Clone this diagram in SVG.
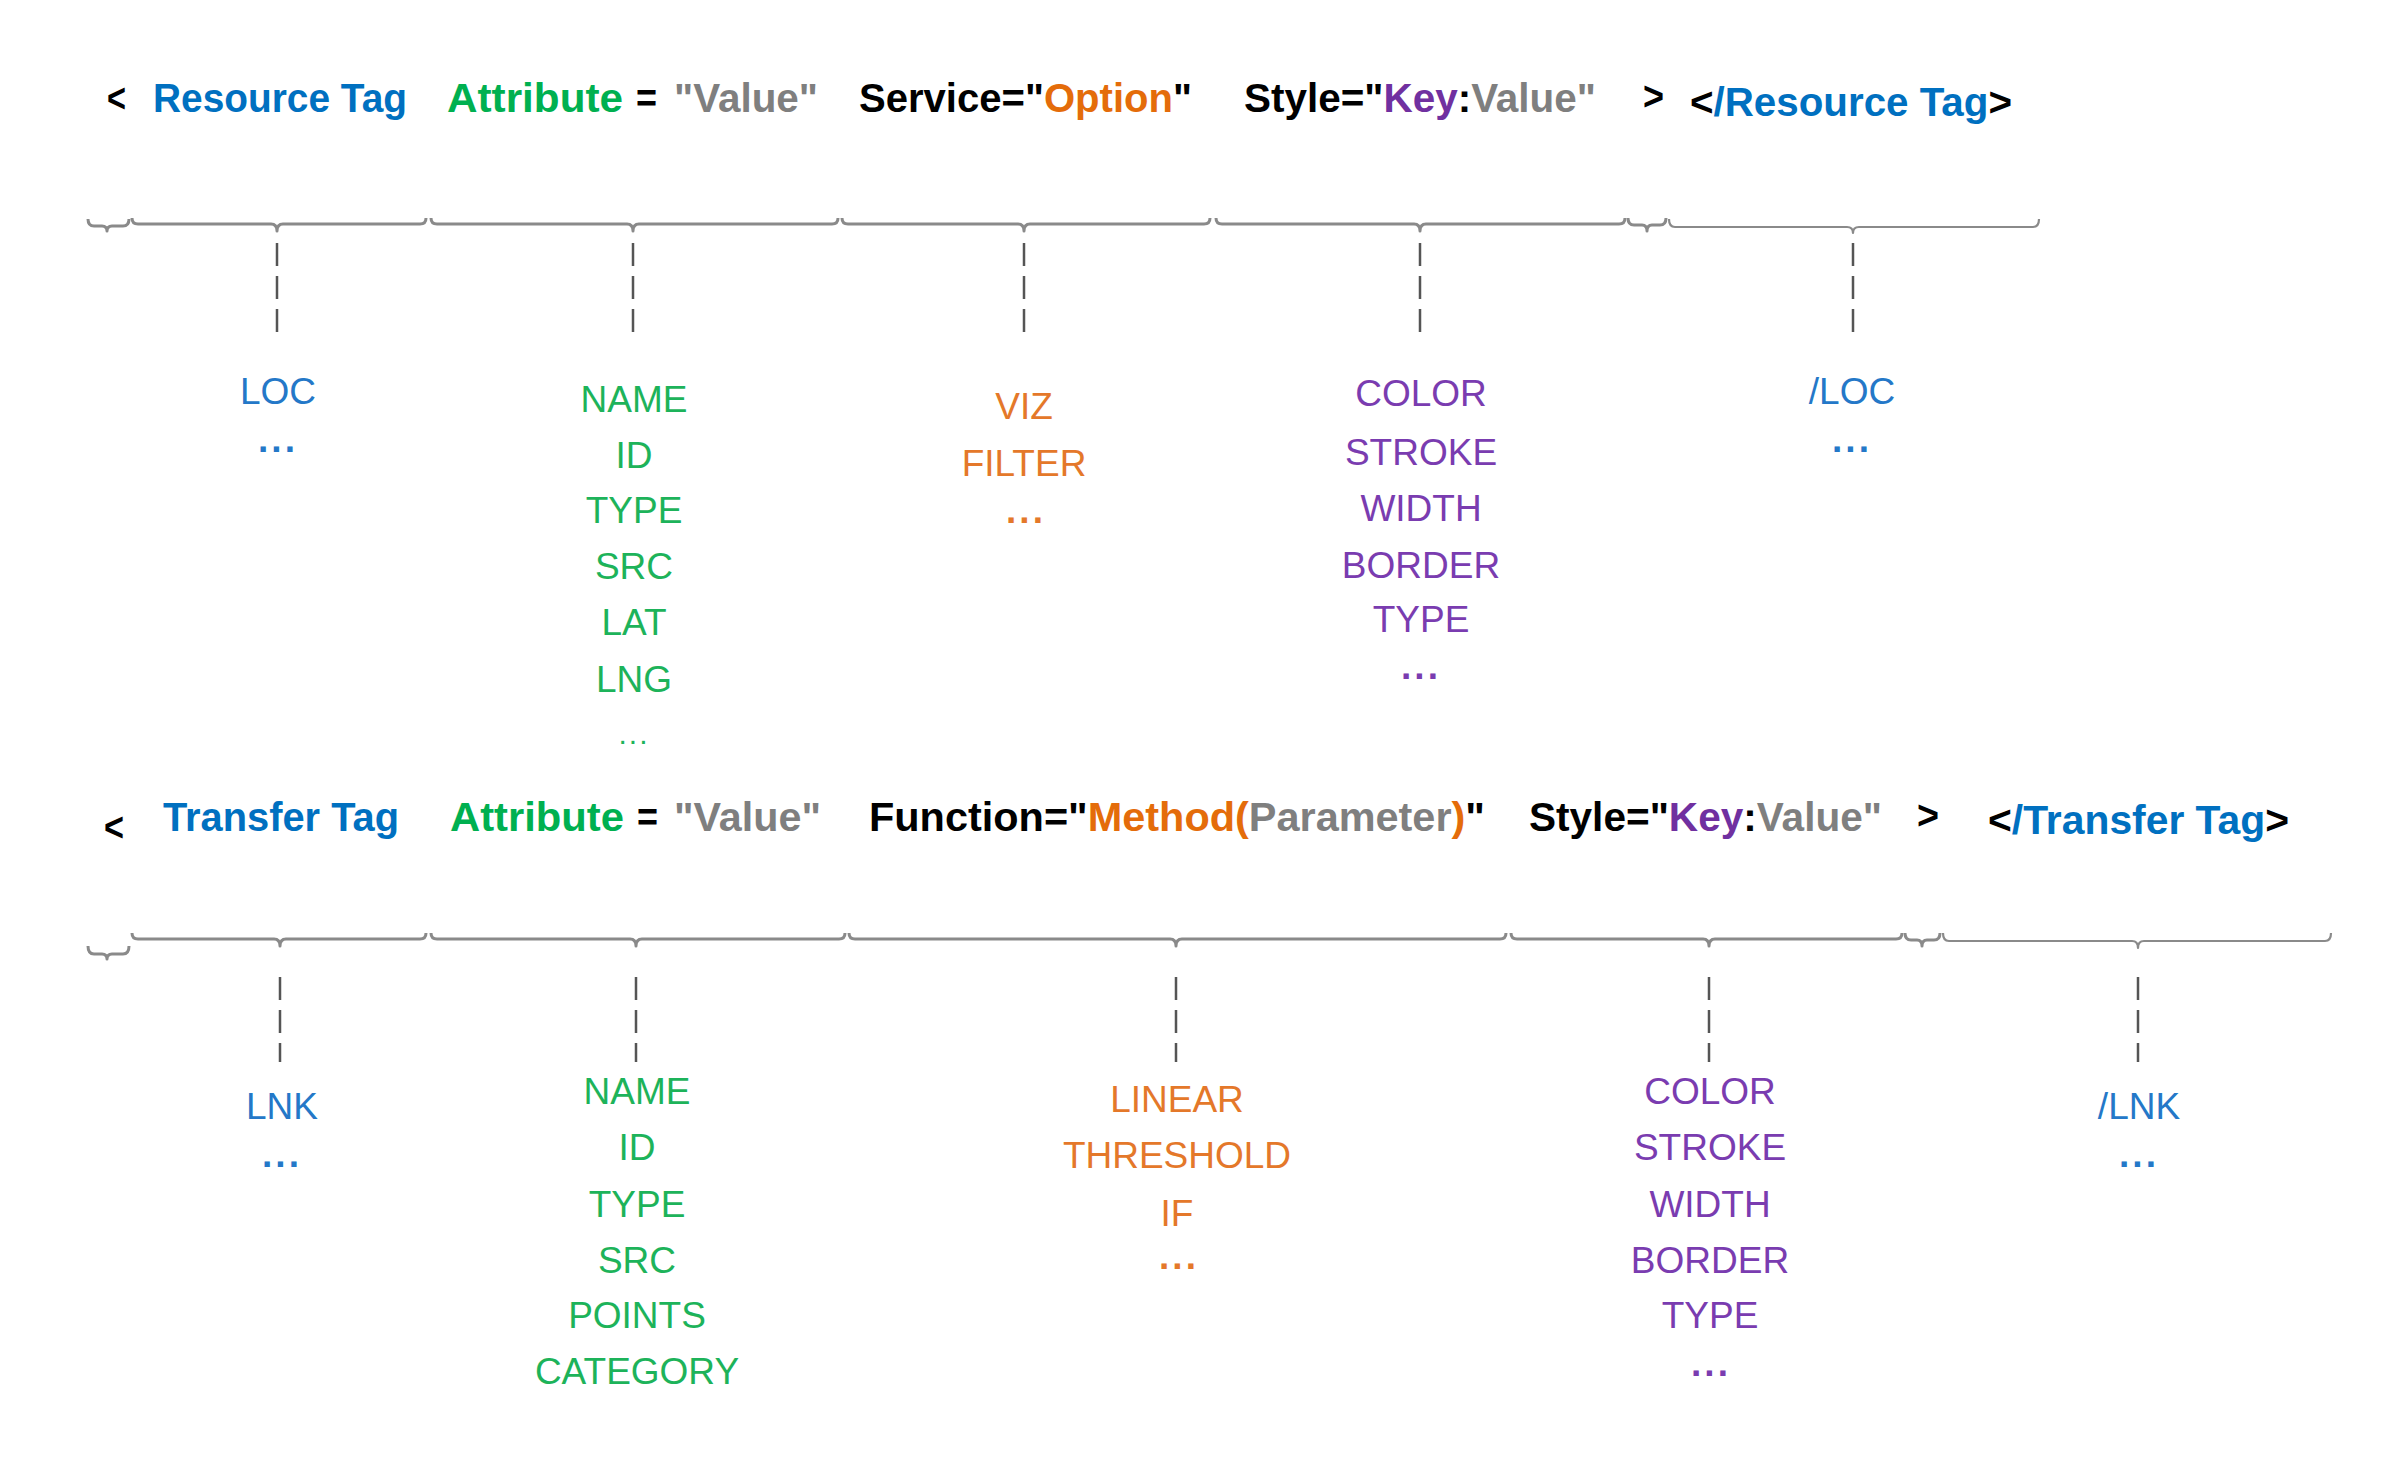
<svg xmlns="http://www.w3.org/2000/svg" width="2386" height="1482" viewBox="0 0 2386 1482">
<style>
.h{font-family:"Liberation Sans",Arial,sans-serif;font-weight:bold;font-size:41px}
.k{fill:#000}.b{fill:#0070C0}.g{fill:#00B050}.o{fill:#E46C0A}.p{fill:#7030A0}.y{fill:#7F7F7F}
.l{font-family:"Liberation Sans",Arial,sans-serif;font-size:37px;text-anchor:middle}
.lb{fill:#2478C8}.lg{fill:#1DB35A}.lo{fill:#E4782A}.lp{fill:#7A3CB0}
.d{font-weight:bold;letter-spacing:3px}
.br{fill:none;stroke:#8A8A8A;stroke-width:3;stroke-linejoin:round}
.ds{stroke:#555;stroke-width:2.5;stroke-dasharray:23 10}
</style>
<rect width="2386" height="1482" fill="#fff"/>

<g id="header-resource" class="h">
<text x="107" y="112" class="k" textLength="19" lengthAdjust="spacingAndGlyphs">&lt;</text>
<text x="153" y="112" class="b" textLength="254" lengthAdjust="spacingAndGlyphs">Resource Tag</text>
<text x="447" y="112" class="g" textLength="176" lengthAdjust="spacingAndGlyphs">Attribute</text>
<text x="636" y="112" class="k" textLength="21" lengthAdjust="spacingAndGlyphs">=</text>
<text x="674" y="112" class="y" textLength="144" lengthAdjust="spacingAndGlyphs">"Value"</text>
<text x="859" y="112" textLength="333" lengthAdjust="spacingAndGlyphs"><tspan class="k">Service="</tspan><tspan class="o">Option</tspan><tspan class="k">"</tspan></text>
<text x="1244" y="112" textLength="352" lengthAdjust="spacingAndGlyphs"><tspan class="k">Style="</tspan><tspan class="p">Key</tspan><tspan class="k">:</tspan><tspan class="y">Value"</tspan></text>
<text x="1643" y="110" class="k" textLength="21" lengthAdjust="spacingAndGlyphs">&gt;</text>
<text x="1690" y="116" textLength="322" lengthAdjust="spacingAndGlyphs"><tspan class="k">&lt;</tspan><tspan class="b">/Resource Tag</tspan><tspan class="k">&gt;</tspan></text>
</g>

<g id="header-transfer" class="h">
<text x="104" y="841" class="k" textLength="20" lengthAdjust="spacingAndGlyphs">&lt;</text>
<text x="163" y="831" class="b" textLength="236" lengthAdjust="spacingAndGlyphs">Transfer Tag</text>
<text x="450" y="831" class="g" textLength="174" lengthAdjust="spacingAndGlyphs">Attribute</text>
<text x="637" y="831" class="k" textLength="21" lengthAdjust="spacingAndGlyphs">=</text>
<text x="674" y="831" class="y" textLength="147" lengthAdjust="spacingAndGlyphs">"Value"</text>
<text x="869" y="831" textLength="616" lengthAdjust="spacingAndGlyphs"><tspan class="k">Function="</tspan><tspan class="o">Method(</tspan><tspan class="y">Parameter</tspan><tspan class="o">)</tspan><tspan class="k">"</tspan></text>
<text x="1529" y="831" textLength="353" lengthAdjust="spacingAndGlyphs"><tspan class="k">Style="</tspan><tspan class="p">Key</tspan><tspan class="k">:</tspan><tspan class="y">Value"</tspan></text>
<text x="1917" y="829" class="k" textLength="22" lengthAdjust="spacingAndGlyphs">&gt;</text>
<text x="1988" y="834" textLength="301" lengthAdjust="spacingAndGlyphs"><tspan class="k">&lt;</tspan><tspan class="b">/Transfer Tag</tspan><tspan class="k">&gt;</tspan></text>
</g>

<g id="connectors">
<g id="braces-resource">
<path class="br" d="M88,219 Q88,226 94,226 L102,226 Q107,226 107,231 Q107,226 112,226 L123,226 Q129,226 129,219"/>
<path class="br" d="M132,218 Q132,224 138,224 L271,224 Q277,224 277,231 Q277,224 283,224 L420,224 Q426,224 426,218"/>
<path class="br" d="M431,218 Q431,224 437,224 L627,224 Q633,224 633,231 Q633,224 639,224 L832,224 Q838,224 838,218"/>
<path class="br" d="M842,218 Q842,224 848,224 L1018,224 Q1024,224 1024,231 Q1024,224 1030,224 L1204,224 Q1210,224 1210,218"/>
<path class="br" d="M1216,218 Q1216,224 1222,224 L1414,224 Q1420,224 1420,231 Q1420,224 1426,224 L1619,224 Q1625,224 1625,218"/>
<path class="br" d="M1628,218 Q1628,225 1634,225 L1642,225 Q1647,225 1647,231 Q1647,225 1652,225 L1660,225 Q1666,225 1666,218"/>
<path class="br" d="M1669,219 Q1669,227 1675,227 L1847,227 Q1853,227 1853,233 Q1853,227 1859,227 L2033,227 Q2039,227 2039,219" style="stroke-width:2.2"/>
</g>
<g id="braces-transfer">
<path class="br" d="M88,946 Q88,954 94,954 L102,954 Q107,954 107,959 Q107,954 112,954 L123,954 Q129,954 129,946"/>
<path class="br" d="M132,933 Q132,939 138,939 L274,939 Q280,939 280,946 Q280,939 286,939 L420,939 Q426,939 426,933"/>
<path class="br" d="M431,933 Q431,939 437,939 L630,939 Q636,939 636,946 Q636,939 642,939 L839,939 Q845,939 845,933"/>
<path class="br" d="M849,933 Q849,939 855,939 L1170,939 Q1176,939 1176,946 Q1176,939 1182,939 L1500,939 Q1506,939 1506,933"/>
<path class="br" d="M1511,933 Q1511,939 1517,939 L1703,939 Q1709,939 1709,946 Q1709,939 1715,939 L1896,939 Q1902,939 1902,933"/>
<path class="br" d="M1905,933 Q1905,940 1911,940 L1917,940 Q1922,940 1922,946 Q1922,940 1927,940 L1934,940 Q1940,940 1940,933"/>
<path class="br" d="M1943,933 Q1943,941 1949,941 L2132,941 Q2138,941 2138,948 Q2138,941 2144,941 L2325,941 Q2331,941 2331,933" style="stroke-width:2.2"/>
</g>
<g id="dashes">
<line class="ds" x1="277" y1="243" x2="277" y2="332"/>
<line class="ds" x1="633" y1="243" x2="633" y2="332"/>
<line class="ds" x1="1024" y1="243" x2="1024" y2="332"/>
<line class="ds" x1="1420" y1="243" x2="1420" y2="332"/>
<line class="ds" x1="1853" y1="243" x2="1853" y2="332"/>
<line class="ds" x1="280" y1="977" x2="280" y2="1062"/>
<line class="ds" x1="636" y1="977" x2="636" y2="1062"/>
<line class="ds" x1="1176" y1="977" x2="1176" y2="1062"/>
<line class="ds" x1="1709" y1="977" x2="1709" y2="1062"/>
<line class="ds" x1="2138" y1="977" x2="2138" y2="1062"/>
</g>
</g>

<g id="col-loc" class="l lb">
<text x="278" y="404">LOC</text>
<text x="278" y="452" class="d">...</text>
</g>
<g id="col-attr1" class="l lg">
<text x="634" y="412">NAME</text>
<text x="634" y="468">ID</text>
<text x="634" y="523">TYPE</text>
<text x="634" y="579">SRC</text>
<text x="634" y="635">LAT</text>
<text x="634" y="692">LNG</text>
<text x="634" y="744" style="font-size:30px;letter-spacing:2px">...</text>
</g>
<g id="col-service" class="l lo">
<text x="1024" y="419">VIZ</text>
<text x="1024" y="476">FILTER</text>
<text x="1026" y="523" class="d">...</text>
</g>
<g id="col-style1" class="l lp">
<text x="1421" y="406">COLOR</text>
<text x="1421" y="465">STROKE</text>
<text x="1421" y="521">WIDTH</text>
<text x="1421" y="578">BORDER</text>
<text x="1421" y="632">TYPE</text>
<text x="1421" y="679" class="d">...</text>
</g>
<g id="col-endloc" class="l lb">
<text x="1852" y="404">/LOC</text>
<text x="1852" y="452" class="d">...</text>
</g>

<g id="col-lnk" class="l lb">
<text x="282" y="1119">LNK</text>
<text x="282" y="1167" class="d">...</text>
</g>
<g id="col-attr2" class="l lg">
<text x="637" y="1104">NAME</text>
<text x="637" y="1160">ID</text>
<text x="637" y="1217">TYPE</text>
<text x="637" y="1273">SRC</text>
<text x="637" y="1328">POINTS</text>
<text x="637" y="1384">CATEGORY</text>
</g>
<g id="col-function" class="l lo">
<text x="1177" y="1112">LINEAR</text>
<text x="1177" y="1168">THRESHOLD</text>
<text x="1177" y="1226">IF</text>
<text x="1179" y="1269" class="d">...</text>
</g>
<g id="col-style2" class="l lp">
<text x="1710" y="1104">COLOR</text>
<text x="1710" y="1160">STROKE</text>
<text x="1710" y="1217">WIDTH</text>
<text x="1710" y="1273">BORDER</text>
<text x="1710" y="1328">TYPE</text>
<text x="1711" y="1376" class="d">...</text>
</g>
<g id="col-endlnk" class="l lb">
<text x="2139" y="1119">/LNK</text>
<text x="2139" y="1167" class="d">...</text>
</g>
</svg>
